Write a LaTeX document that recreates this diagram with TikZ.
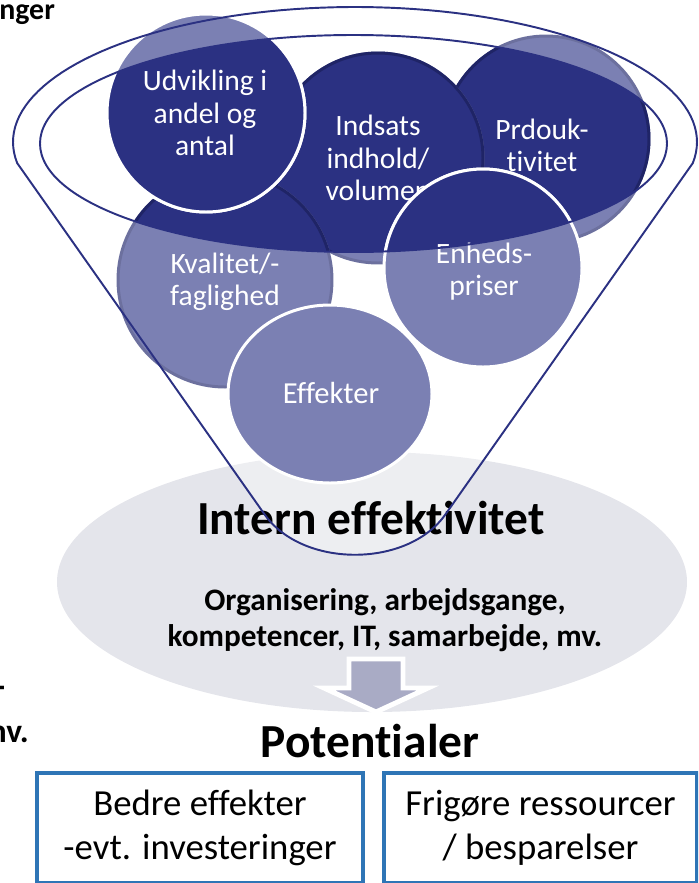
\documentclass[tikz,border=0pt]{standalone}
\usepackage{fontspec}
\setmainfont{Carlito}[Ligatures=NoCommon]
\definecolor{navy}{HTML}{2B3182}
\definecolor{lightnavy}{HTML}{7B80B3}
\definecolor{navyedge}{HTML}{1F2466}
\definecolor{greyedge}{HTML}{6C709E}
\definecolor{bggrey}{HTML}{E4E5EB}
\definecolor{arrowgrey}{HTML}{A9ABC5}
\definecolor{boxblue}{HTML}{2E75B6}
\newcommand\innerrim{(353.5,143.5) ellipse[x radius=313.5, y radius=108.5]}
\newcommand\funblob[4]{%
  \filldraw[fill=lightnavy, draw=#3, line width=1.7pt] #1 #2;
  \begin{scope}
    \clip \innerrim;
    \filldraw[fill=navy, draw=#4, line width=1.7pt] #1 #2;
  \end{scope}}
\tikzset{
  ctext/.style={text=white, align=center, inner sep=0pt, font=\fontsize{16.8}{18.3}\selectfont},
  bigtitle/.style={inner sep=0pt, font=\bfseries\fontsize{27}{30}\selectfont},
  subtext/.style={inner sep=0pt, align=center, font=\bfseries\fontsize{17.8}{20.4}\selectfont},
  sidetext/.style={inner sep=0pt, font=\bfseries\fontsize{19}{22}\selectfont},
  potbox/.style={draw=boxblue, line width=2.2pt, fill=white, align=center, inner sep=0pt,
    font=\fontsize{20.9}{25}\selectfont, minimum height=2.2cm},
  funline/.style={draw=navy, line width=1.1pt}
}
\begin{document}
\begin{tikzpicture}[x=0.02cm,y=-0.02cm]
\useasboundingbox (0,0) rectangle (698,883);
\clip (0,0) rectangle (698,883);

% background ellipse
\fill[bggrey] (372,582) ellipse[x radius=315, y radius=130];
% funnel body (translucent)
\path[fill=white, fill opacity=0.35]
  plot[domain=171:369, samples=90] ({355+342*cos(\x)},{142+135*sin(\x)})
  -- (445,515) .. controls (407,568) and (303,568) .. (265,515) -- cycle;

% texts in the grey ellipse
\node[bigtitle] (intern) at (371,518) {Intern effektivitet};
\draw[fill=arrowgrey, draw=white, line width=2.8pt, line join=miter]
  (349,659) -- (403,659) -- (403,688) -- (428,688) -- (376,712) -- (324,688) -- (349,688) -- cycle;
\node[subtext] (org) at (385,620) {Organisering, arbejdsgange,\\kompetencer, IT, samarbejde, mv.};

% circles
\funblob{(546,139)}{circle[radius=103]}{greyedge}{navyedge}
\node[ctext] (prod) at (542,145) {Prdouk-\\tivitet};
\funblob{(378,158)}{circle[radius=105]}{greyedge}{navyedge}
\node[ctext] (inds) at (378,158) {Indsats\\indhold/\\volumen};
\funblob{(225,280)}{circle[radius=107]}{greyedge}{navyedge}
\node[ctext] (kval) at (225,282) {Kvalitet/-\\faglighed};
\funblob{(206,113)}{circle[radius=99]}{white}{white}
\node[ctext] (udv) at (205,113) {Udvikling i\\andel og\\antal};
\funblob{(483,268)}{circle[radius=99]}{white}{white}
\node[ctext] (enh) at (484,272) {Enheds-\\priser};
\filldraw[fill=lightnavy, draw=white, line width=1.7pt] (330,394) ellipse[x radius=102, y radius=89];
\node[ctext, font=\fontsize{17.4}{19}\selectfont] (eff) at (331,393) {Effekter};

% funnel outline
\draw[funline] \innerrim;
\draw[funline, line join=round]
  plot[domain=171:369, samples=90] ({355+342*cos(\x)},{142+135*sin(\x)})
  -- (445,515) .. controls (407,568) and (303,568) .. (265,515) -- cycle;

% bottom part
\node[bigtitle] (pot) at (370,741) {Potentialer};
\node[potbox, minimum width=6.52cm] (b1) at (200,828) {\raisebox{0pt}[0pt][0pt]{}Bedre effekter\\-evt. investeringer};
\node[potbox, minimum width=6.26cm] (b2) at (540.5,828) {Frigøre ressourcer\\/ besparelser};

% clipped texts at the left edge
\node[sidetext, font=\bfseries\fontsize{17}{20}\selectfont, anchor=base west] (t1) at (-1,19) {nger};
\node[sidetext] (t2) at (0,692) {-};
\node[sidetext, anchor=base east] (t3) at (29,742) {nv.};
\end{tikzpicture}
\end{document}
